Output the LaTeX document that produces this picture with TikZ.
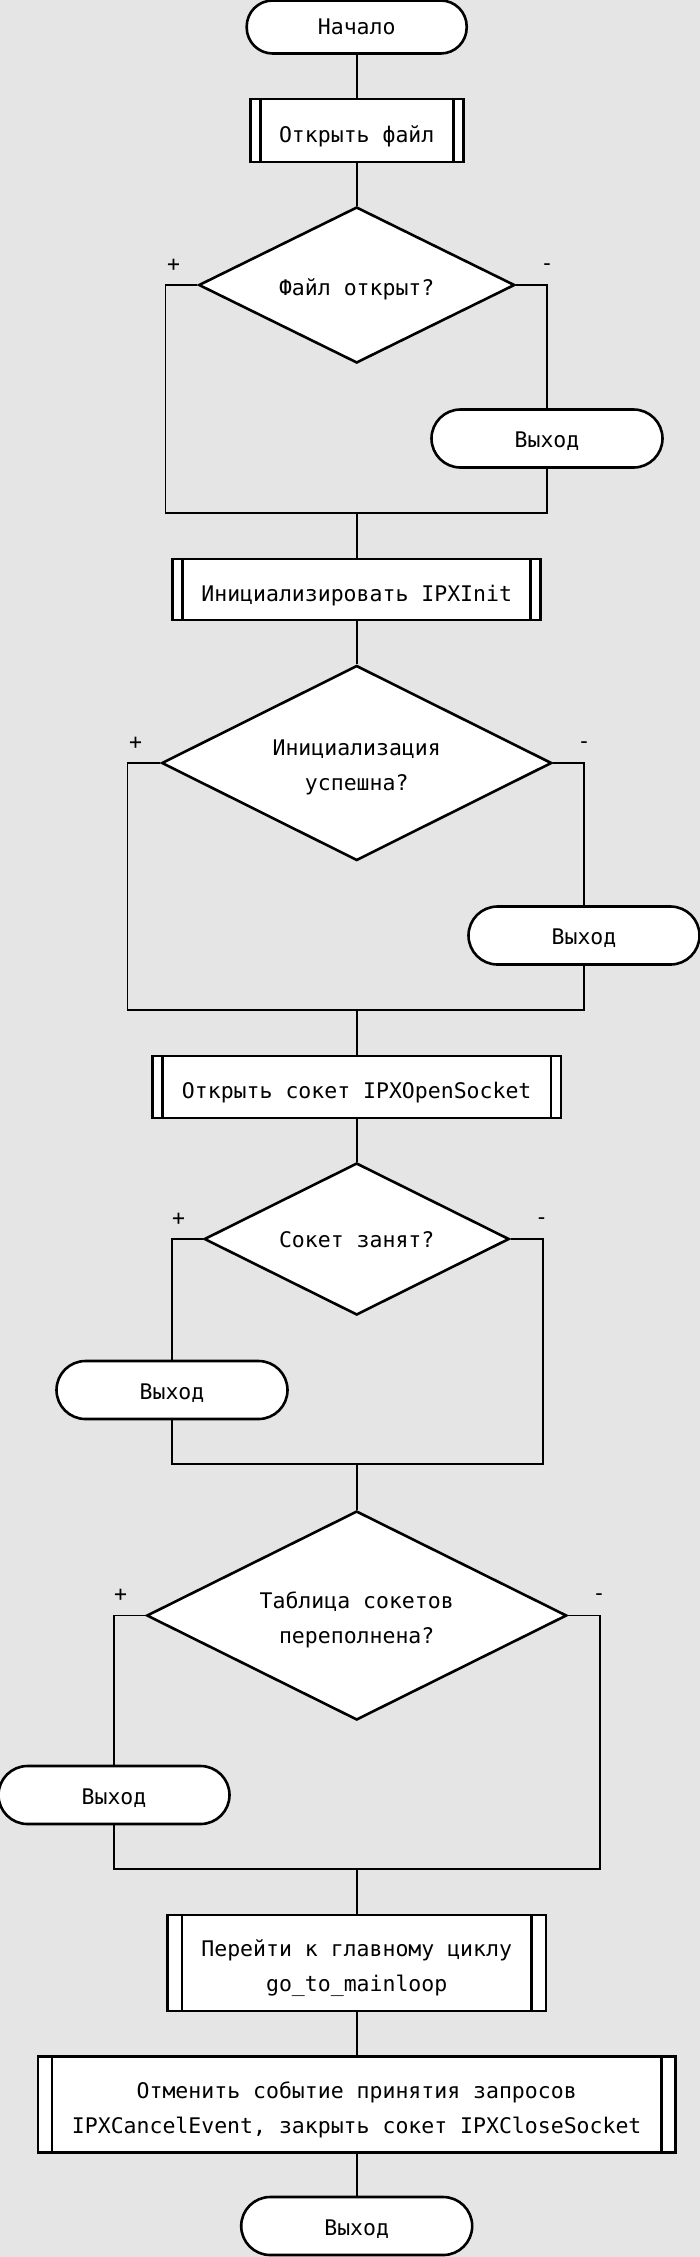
\documentclass[tikz,border=0pt]{standalone}
\usepackage{fontspec}
\setmonofont{DejaVu Sans Mono}
\usetikzlibrary{shapes.geometric}
\definecolor{bgcol}{HTML}{E5E5E5}
\begin{document}
\begin{tikzpicture}[x=1pt,y=-1pt,
  every node/.style={font=\ttfamily\fontsize{21.5}{35}\selectfont, inner sep=0pt},
  subgap/.store in=\subgap, subgap=10pt,
  term/.style={draw, fill=white, line width=2.6pt, rounded corners=29pt, minimum width=231pt, minimum height=58pt, text height=21.5pt},
  sub/.style={draw, fill=white, line width=2.6pt, align=center, text height=28pt,
    path picture={\draw[line width=2.6pt]
      ([xshift=\subgap]path picture bounding box.north west) -- ([xshift=\subgap]path picture bounding box.south west)
      ([xshift=-\subgap]path picture bounding box.north east) -- ([xshift=-\subgap]path picture bounding box.south east);}},
  dec/.style={diamond, aspect=2, draw, fill=white, line width=2.6pt, align=center, text height=26pt},
  conn/.style={line width=1.6pt},
  lbl/.style={inner sep=0pt}
]
\useasboundingbox (0,0) rectangle (700,2257);
\fill[bgcol] (0,0) rectangle (700,2257);

\node[term, minimum width=220pt, minimum height=53pt, rounded corners=26pt, text height=15.7pt] (start) at (356.7,27) {Начало};
\node[sub, minimum width=213pt, minimum height=63pt] (b1) at (356.7,130.5) {Открыть файл};
\node[dec, minimum width=316pt, minimum height=156pt] (d1) at (356.7,285) {Файл открыт?};
\node[term] (e1) at (547,438.5) {Выход};
\coordinate (j1) at (356.7,513);
\node[sub, minimum width=368pt, minimum height=61pt] (b2) at (356.7,589.5) {Инициализировать IPXInit};
\node[dec, minimum width=390pt, minimum height=195pt, text height=60pt] (d2) at (356.7,763) {Инициализация\\успешна?};
\node[term] (e2) at (584,935.5) {Выход};
\coordinate (j2) at (356.7,1010);
\node[sub, minimum width=408.5pt, minimum height=62pt] (b3) at (356.7,1087) {Открыть сокет IPXOpenSocket};
\node[dec, minimum width=305pt, minimum height=152pt, text height=17pt] (d3) at (356.7,1239) {Сокет занят?};
\node[term] (e3) at (172,1390) {Выход};
\coordinate (j3) at (356.7,1464);
\node[dec, minimum width=420pt, minimum height=209pt, text height=60pt] (d4) at (356.7,1615.5) {Таблица сокетов\\переполнена?};
\node[term] (e4) at (114,1795) {Выход};
\coordinate (j4) at (356.7,1869);
\node[sub, subgap=14.5pt, minimum width=378.6pt, minimum height=96pt, text height=63pt] (b4) at (356.7,1963) {Перейти к главному циклу\\go\_to\_mainloop};
\node[sub, subgap=14pt, minimum width=637.5pt, minimum height=96pt, text height=63pt] (b5) at (356.7,2104.7) {Отменить событие принятия запросов\\IPXCancelEvent, закрыть сокет IPXCloseSocket};
\node[term] (e5) at (356.7,2226) {Выход};

% connectors
\draw[conn] (start) -- (b1);
\draw[conn] (b1) -- (d1);
\draw[conn] (d1.west) -- ++(-32,0) |- (j1);
\draw[conn] (d1.east) -| (e1.north);
\draw[conn] (e1.south) |- (j1);
\draw[conn] (j1) -- (b2.north);
\draw[conn] (b2) -- (d2);
\draw[conn] (d2.west) -- ++(-33,0) |- (j2);
\draw[conn] (d2.east) -| (e2.north);
\draw[conn] (e2.south) |- (j2);
\draw[conn] (j2) -- (b3.north);
\draw[conn] (b3) -- (d3);
\draw[conn] (d3.west) -| (e3.north);
\draw[conn] (e3.south) |- (j3);
\draw[conn] (d3.east) -- ++(32.5,0) |- (j3);
\draw[conn] (j3) -- (d4.north);
\draw[conn] (d4.west) -| (e4.north);
\draw[conn] (e4.south) |- (j4);
\draw[conn] (d4.east) -- ++(32,0) |- (j4);
\draw[conn] (j4) -- (b4.north);
\draw[conn] (b4) -- (b5);
\draw[conn] (b5) -- (e5);

% labels
\node[lbl] (p1) at (173.5,265) {+};
\node[lbl] (m1) at (547,267) {-};
\node[lbl] (p2) at (135.5,743) {+};
\node[lbl] (m2) at (584,745) {-};
\node[lbl] (p3) at (178.5,1219) {+};
\node[lbl] (m3) at (541.5,1221) {-};
\node[lbl] (p4) at (120.5,1595.5) {+};
\node[lbl] (m4) at (599,1597.5) {-};
\end{tikzpicture}
\end{document}
